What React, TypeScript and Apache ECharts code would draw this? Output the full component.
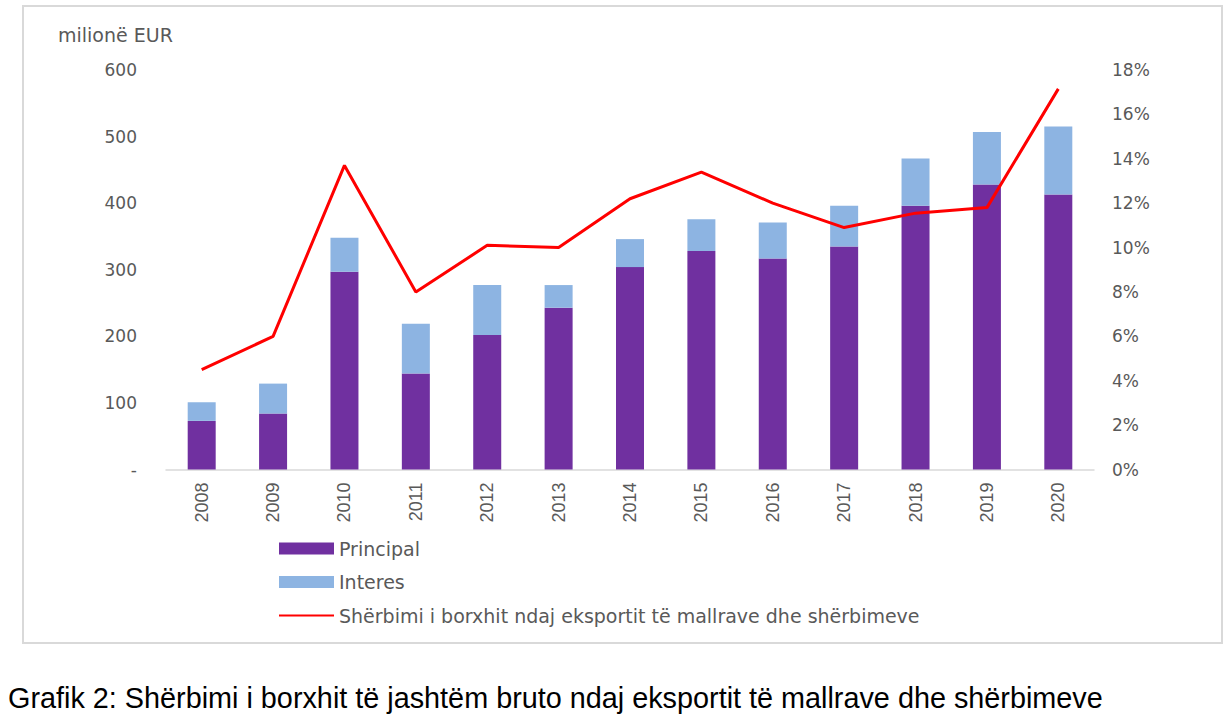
import React, { useEffect, useRef } from "react";
import * as echarts from "echarts";

const years = ["2008", "2009", "2010", "2011", "2012", "2013", "2014", "2015", "2016", "2017", "2018", "2019", "2020"];
const principal = [73, 84, 297, 144, 202, 243, 304, 328, 317, 335, 396, 428, 413];
const interes = [28, 45, 51, 75, 75, 34, 42, 48, 54, 61, 71, 79, 102];
const debtServiceRatio = [4.5, 6.0, 13.7, 8.0, 10.1, 10.0, 12.2, 13.4, 12.0, 10.9, 11.55, 11.8, 17.15];

const leftTicks = { min: 0, max: 600, interval: 100 };
const rightTicks = { min: 0, max: 18, interval: 2 };

const seriesNames = ["Principal", "Interes", "Shërbimi i borxhit ndaj eksportit të mallrave dhe shërbimeve"];
const unitLabel = "milionë EUR";
const caption = "Grafik 2: Shërbimi i borxhit të jashtëm bruto ndaj eksportit të mallrave dhe shërbimeve";

export default function App() {
  const ref = useRef<HTMLDivElement>(null);
  useEffect(() => {
    if (!ref.current) return;
    const chart = echarts.init(ref.current, null, { renderer: "svg" });
    const tickFont = { fontFamily: "DejaVu Sans", fontSize: 17, color: "#595959" };
    chart.setOption({
      animation: false,
      backgroundColor: "#ffffff",
      grid: { left: 166, right: 136, top: 70, bottom: 247.5, containLabel: false },
      legend: {
        orient: "vertical",
        left: 273,
        top: 534,
        itemWidth: 55,
        itemHeight: 12,
        itemGap: 14.5,
        textStyle: { fontFamily: "DejaVu Sans", fontSize: 19, color: "#595959" },
        data: [
          { name: seriesNames[0], icon: "rect" },
          { name: seriesNames[1], icon: "rect" },
          { name: seriesNames[2], itemStyle: { opacity: 0 } },
        ],
      },
      xAxis: {
        type: "category",
        data: years,
        axisLine: { lineStyle: { color: "#D9D9D9", width: 1.5 } },
        axisTick: { show: false },
        axisLabel: {
          rotate: 90,
          margin: 13,
          fontFamily: "Liberation Sans",
          fontSize: 18,
          color: "#595959",
        },
      },
      yAxis: [
        {
          type: "value",
          ...leftTicks,
          axisLine: { show: false },
          axisTick: { show: false },
          splitLine: { show: false },
          axisLabel: {
            ...tickFont,
            margin: 29,
            formatter: (v: number) => (v === 0 ? "-" : String(v)),
          },
        },
        {
          type: "value",
          ...rightTicks,
          position: "right",
          axisLine: { show: false },
          axisTick: { show: false },
          splitLine: { show: false },
          axisLabel: { ...tickFont, margin: 18, formatter: "{value}%" },
        },
      ],
      series: [
        {
          name: seriesNames[0],
          type: "bar",
          stack: "total",
          barWidth: 28,
          data: principal,
          itemStyle: { color: "#7030A0" },
        },
        {
          name: seriesNames[1],
          type: "bar",
          stack: "total",
          barWidth: 28,
          data: interes,
          itemStyle: { color: "#8DB4E2" },
        },
        {
          name: seriesNames[2],
          type: "line",
          yAxisIndex: 1,
          data: debtServiceRatio,
          symbol: "none",
          lineStyle: { color: "#FF0000", width: 3 },
          itemStyle: { color: "#FF0000" },
          z: 5,
        },
      ],
      graphic: [
        {
          type: "rect",
          shape: { x: 23, y: 6, width: 1199, height: 637 },
          style: { fill: "none", stroke: "#D9D9D9", lineWidth: 2 },
          silent: true,
          z: -1,
        },
        {
          type: "text",
          x: 58,
          y: 35,
          style: {
            text: unitLabel,
            fontFamily: "DejaVu Sans",
            fontSize: 19,
            fill: "#595959",
            verticalAlign: "middle",
            align: "left",
          },
        },
        {
          type: "text",
          x: 8,
          y: 698,
          style: {
            text: caption,
            fontFamily: "Liberation Sans",
            fontSize: 28.8,
            fill: "#000000",
            verticalAlign: "middle",
            align: "left",
          },
        },
      ],
    });
    return () => chart.dispose();
  }, []);
  return (
    <div
      ref={ref}
      style={{ position: "absolute", left: 0, top: 0, width: 1230, height: 717 }}
    />
  );
}
